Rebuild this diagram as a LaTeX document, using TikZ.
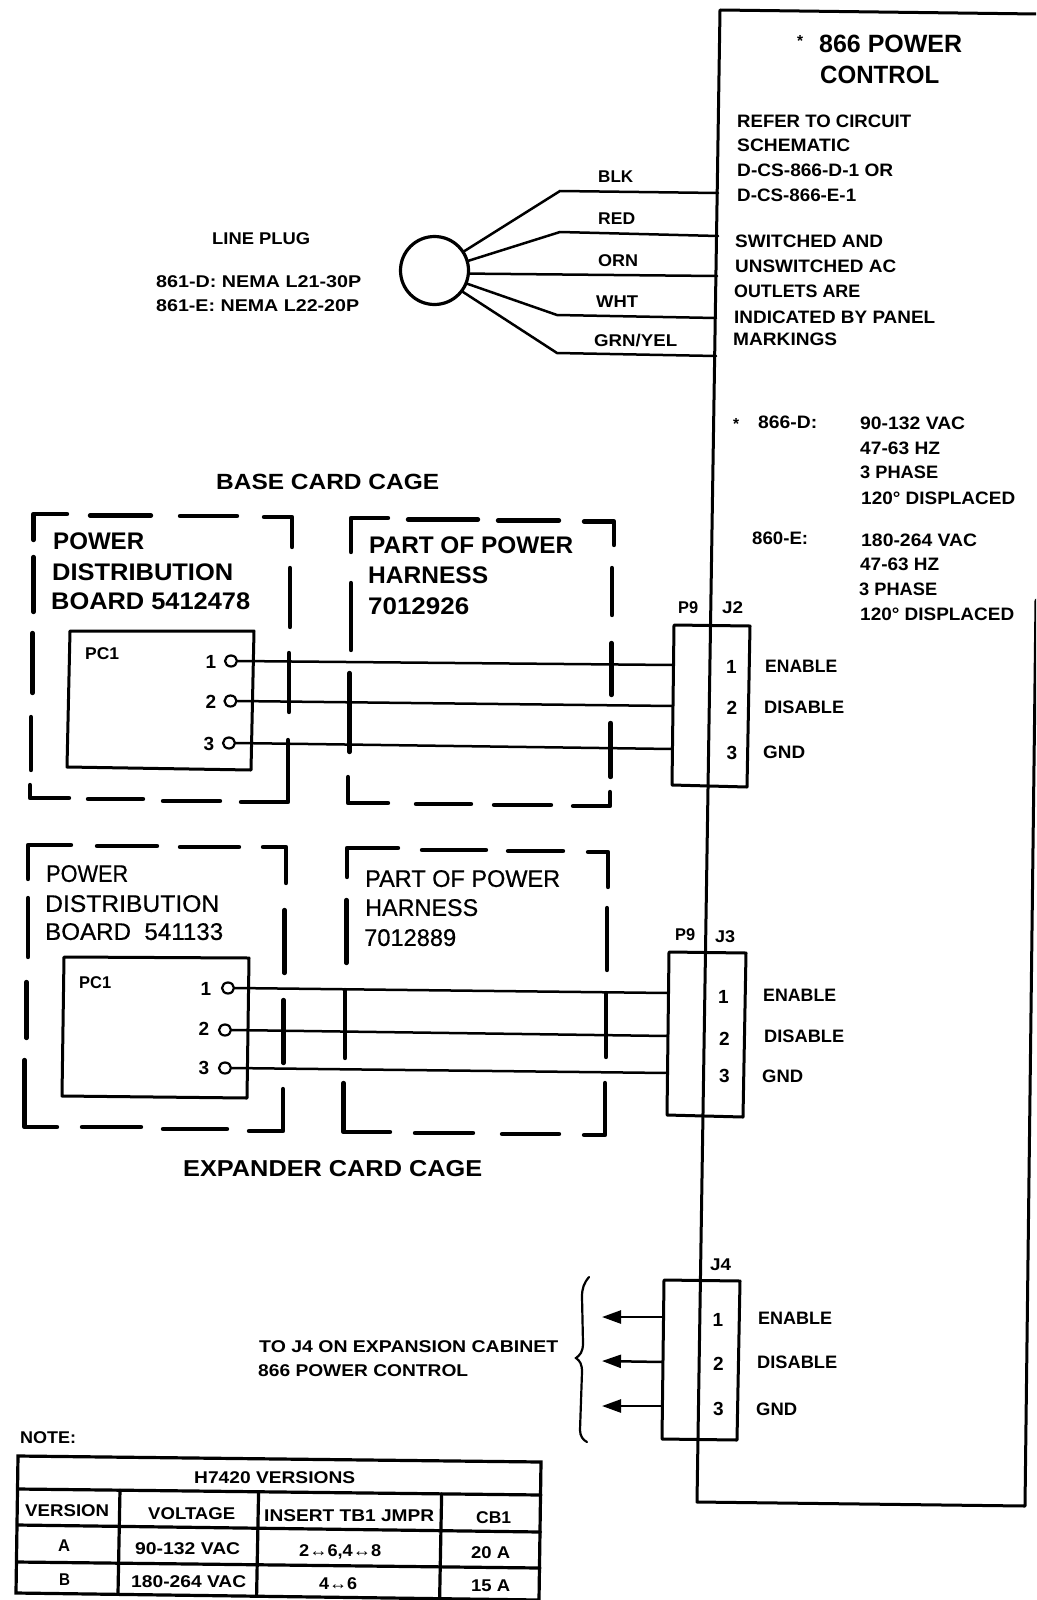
\documentclass[tikz,border=0pt]{standalone}
\usepackage{fontspec}
\usepackage{graphicx}
\usetikzlibrary{arrows.meta,calc,shapes.geometric}
\setmainfont{Liberation Sans}
\newfontfamily\medfont[FakeBold=0.6]{Liberation Sans}
\tikzset{
  mainline/.style={line width=3pt,line join=round,line cap=round},
  wire/.style={line width=2.5pt,line cap=round},
  cage/.style={line width=4.4pt,line cap=round,line join=round},
  board/.style={line width=3pt,line join=round},
  conn/.style={line width=3pt,line join=round},
  tbl/.style={line width=3.2pt,line cap=round},
  pin/.style={ellipse,draw,line width=2.2pt,inner sep=0pt,minimum width=12pt,minimum height=11pt,fill=none},
  plugc/.style={circle,draw,line width=3.2pt,inner sep=0pt,minimum size=68pt},
  lead/.style={line width=2.5pt,-{Triangle[length=19pt,width=13pt]}},
  brace/.style={line width=2.2pt,line cap=round},
}
\newcommand\fitw[2]{\resizebox{#1pt}{\height}{#2}}
% name, left x, centre y, width, font size, text
\newcommand\lab[6]{%
  \pgfmathsetlengthmacro\capH{0.69*#5pt}%
  \node[anchor=west,inner sep=0pt,yshift=-0.6pt,text height=\capH,text depth=0pt,
        font=\fontsize{#5}{#5}\selectfont\bfseries] (#1) at (#2,#3) {\fitw{#4}{#6}};}
\newcommand\labm[6]{%
  \pgfmathsetlengthmacro\capH{0.69*#5pt}%
  \node[anchor=west,inner sep=0pt,yshift=-0.6pt,text height=\capH,text depth=0pt,
        font=\fontsize{#5}{#5}\selectfont\medfont] (#1) at (#2,#3) {\fitw{#4}{#6}};}
% name, centre x, centre y, font size, text
\newcommand\cen[5]{%
  \pgfmathsetlengthmacro\capH{0.69*#4pt}%
  \node[anchor=center,inner sep=0pt,yshift=-0.6pt,text height=\capH,text depth=0pt,
        font=\fontsize{#4}{#4}\selectfont\bfseries] (#1) at (#2,#3) {#5};}
\newcommand\tinyarrow{{\fontsize{17}{17}\selectfont\mdseries ↔}}
\begin{document}
\begin{tikzpicture}[x=1pt,y=-1pt]
\path[use as bounding box,fill=white] (0,0) rectangle (1036,1600);
\clip (0,0) rectangle (1036,1600);

% main enclosure
\draw[mainline] (1037,14) -- (720,10) -- (697,1502) -- (1025,1506) -- (1036,600);

% title and notes
\lab{ast1}{797}{40}{6}{16}{*}
\lab{tA}{819}{43}{143}{25}{866 POWER}
\lab{tB}{820}{74}{119}{25}{CONTROL}
\lab{nA}{737}{121}{174}{18}{REFER TO CIRCUIT}
\lab{nB}{737}{145}{113}{18}{SCHEMATIC}
\lab{nC}{737}{170}{156}{18}{D-CS-866-D-1 OR}
\lab{nD}{737}{195}{119}{18}{D-CS-866-E-1}
\lab{nE}{735}{241}{148}{18}{SWITCHED AND}
\lab{nF}{735}{266}{161}{18}{UNSWITCHED AC}
\lab{nG}{734}{291}{126}{18}{OUTLETS ARE}
\lab{nH}{734}{317}{201}{18}{INDICATED BY PANEL}
\lab{nI}{733}{339}{104}{18}{MARKINGS}
\lab{ast2}{733}{423}{6}{16}{*}
\lab{dA}{758}{422}{59}{18}{866-D:}
\lab{dB}{860}{423}{105}{18}{90-132 VAC}
\lab{dC}{860}{448}{80}{18}{47-63 HZ}
\lab{dD}{860}{472}{78}{18}{3 PHASE}
\lab{dE}{861}{498}{154}{18}{120° DISPLACED}
\lab{eA}{752}{538}{56}{18}{860-E:}
\lab{eB}{861}{540}{116}{18}{180-264 VAC}
\lab{eC}{860}{564}{79}{18}{47-63 HZ}
\lab{eD}{859}{589}{78}{18}{3 PHASE}
\lab{eE}{860}{614}{154}{18}{120° DISPLACED}

% line plug
\lab{lp}{212}{238}{98}{17}{LINE PLUG}
\lab{lpA}{156}{281}{205}{17}{861-D: NEMA L21-30P}
\lab{lpB}{156}{305}{203}{17}{861-E: NEMA L22-20P}
\node[plugc] (plug) at (434.5,270.5) {};
\coordinate (blkM) at (560,191); \coordinate (blkE) at (718,193);
\coordinate (redM) at (560,232); \coordinate (redE) at (718,236);
\coordinate (ornE) at (717,276);
\coordinate (whtM) at (557,315);   \coordinate (whtE) at (716,318);
\coordinate (grnM) at (557,353);   \coordinate (grnE) at (716,356);
\draw[wire] (plug.33) -- (blkM) -- (blkE);
\draw[wire] (plug.16) -- (redM) -- (redE);
\draw[wire] (plug.-5) -- (ornE);
\draw[wire] (plug.-22) -- (whtM) -- (whtE);
\draw[wire] (plug.-37) -- (grnM) -- (grnE);
\lab{wA}{598}{176}{35}{17}{BLK}
\lab{wB}{598}{218}{37}{17}{RED}
\lab{wC}{598}{260}{40}{17}{ORN}
\lab{wD}{596}{301}{42}{17}{WHT}
\lab{wE}{594}{340}{83}{17}{GRN/YEL}

% base card cage
\lab{bcc}{216}{481}{223}{22}{BASE CARD CAGE}
\draw[cage] (33.5,540) -- (33.5,514) -- (67,514)
  (90,515.5) -- (151,515.5) (180,516) -- (237,516)
  (264,517) -- (292,517) -- (292,547)
  (290,568) -- (290,627) (289,653) -- (289,712)
  (288,740) -- (288,802) -- (241,802)
  (220,801) -- (163,801) (143,799) -- (88,799)
  (69,798) -- (30,798) -- (30,785)
  (31,770) -- (31,717) (32.5,693) -- (32.5,633) (33.5,612) -- (33.5,557);
\draw[cage] (351,552) -- (351,518) -- (388,518)
  (408,519.5) -- (478,519.5) (498,520.5) -- (559,520.5)
  (584,521.5) -- (614,521.5) -- (614,545)
  (612,568) -- (612,615) (611.5,643) -- (611.5,695) (610.6,723) -- (610.6,777)
  (610,792) -- (610,806) -- (573,806)
  (551,805) -- (494,805) (471,804) -- (416,804)
  (388,803) -- (348,803) -- (348,777)
  (349.5,752) -- (349.5,673) (351,650) -- (351,583);
\lab{pa}{53}{541}{91}{24}{POWER}
\lab{pb}{52}{572}{181}{24}{DISTRIBUTION}
\lab{pc}{51}{601}{199}{24}{BOARD 5412478}
\lab{ha}{369}{545}{204}{24}{PART OF POWER}
\lab{hb}{368}{575}{120}{24}{HARNESS}
\lab{hc}{368}{606}{101}{24}{7012926}
\draw[board] (70,631) -- (254,631) -- (251,770) -- (67,767) -- cycle;
\lab{pcA}{85}{653}{34}{17}{PC1}
\cen{bA1}{211}{661}{19}{1}
\cen{bA2}{211}{701}{19}{2}
\cen{bA3}{209}{743}{19}{3}
\node[pin] (pinA1) at (231,661) {};
\node[pin] (pinA2) at (230.5,701) {};
\node[pin] (pinA3) at (229,743) {};

% J2
\coordinate (j2tl) at (674,625); \coordinate (j2tr) at (750,626);
\coordinate (j2br) at (747,787); \coordinate (j2bl) at (672,785);
\draw[conn] (j2tl) -- (j2tr) -- (j2br) -- (j2bl) -- cycle;
\coordinate (j2a) at (673.5,665); \coordinate (j2b) at (673,706); \coordinate (j2c) at (672.5,749);
\draw[wire] (pinA1.east) -- (j2a);
\draw[wire] (pinA2.east) -- (j2b);
\draw[wire] (pinA3.east) -- (j2c);
\lab{jAp}{678}{607}{20}{17}{P9}
\lab{jAj}{722}{607}{21}{17}{J2}
\cen{jA1}{731.5}{666}{19}{1}
\cen{jA2}{732}{707}{19}{2}
\cen{jA3}{732}{752}{19}{3}
\lab{jAe}{765}{666}{72}{18}{ENABLE}
\lab{jAd}{764}{707}{80}{18}{DISABLE}
\lab{jAg}{763}{752}{42}{18}{GND}

% expander card cage
\draw[cage] (28,879) -- (28,845) -- (71,845)
  (97,846) -- (157,846) (180,847) -- (239,847)
  (263,847) -- (286,847) -- (286,883)
  (284.5,910) -- (284.5,973) (283.5,1000) -- (283.5,1063)
  (283,1089) -- (283,1131) -- (249,1131)
  (227,1129) -- (163,1129) (141,1127) -- (82,1127)
  (57,1127) -- (24.5,1127) -- (24.5,1060)
  (26.5,1038) -- (26.5,982) (28,957) -- (28,898);
\draw[cage] (347,877) -- (347,848) -- (398,848)
  (422,850) -- (486,850) (508,851) -- (563,851)
  (588,852) -- (608,852) -- (608,887)
  (607,908) -- (607,970) (606,993) -- (606,1057)
  (605,1083) -- (605,1135) -- (584,1135)
  (559,1134) -- (502,1134) (473,1133) -- (415,1133)
  (390,1132) -- (343.5,1132) -- (343.5,1083)
  (345,1058) -- (345,990) (346.5,963) -- (346.5,900);
\labm{qa}{46}{873}{82}{24}{POWER}
\labm{qb}{45}{903}{174}{24}{DISTRIBUTION}
\labm{qc}{45}{931}{178}{24}{BOARD\ \ 541133}
\labm{ia}{365}{878}{195}{24}{PART OF POWER}
\labm{ib}{365}{907}{113}{24}{HARNESS}
\labm{ic}{364}{937}{92}{24}{7012889}
\draw[board] (64,957) -- (249,958) -- (247,1098) -- (62,1096) -- cycle;
\lab{pcB}{79}{982}{32}{17}{PC1}
\cen{bB1}{206}{988}{19}{1}
\cen{bB2}{204}{1028}{19}{2}
\cen{bB3}{204}{1067}{19}{3}
\node[pin] (pinB1) at (228,988) {};
\node[pin] (pinB2) at (225,1030) {};
\node[pin] (pinB3) at (225,1068) {};
\lab{ecc}{183}{1168}{299}{23}{EXPANDER CARD CAGE}

% J3
\coordinate (j3tl) at (669,952); \coordinate (j3tr) at (746,953);
\coordinate (j3br) at (743,1117); \coordinate (j3bl) at (667,1115);
\draw[conn] (j3tl) -- (j3tr) -- (j3br) -- (j3bl) -- cycle;
\coordinate (j3a) at (668.5,993); \coordinate (j3b) at (668,1036); \coordinate (j3c) at (667.5,1073);
\draw[wire] (pinB1.east) -- (j3a);
\draw[wire] (pinB2.east) -- (j3b);
\draw[wire] (pinB3.east) -- (j3c);
\lab{jBp}{675}{934}{20}{17}{P9}
\lab{jBj}{715}{936}{20}{17}{J3}
\cen{jB1}{723.5}{996}{19}{1}
\cen{jB2}{724.5}{1038}{19}{2}
\cen{jB3}{724.5}{1075}{19}{3}
\lab{jBe}{763}{995}{73}{18}{ENABLE}
\lab{jBd}{764}{1036}{80}{18}{DISABLE}
\lab{jBg}{762}{1076}{41}{18}{GND}

% J4
\coordinate (j4tl) at (664,1280); \coordinate (j4tr) at (740,1281);
\coordinate (j4br) at (737,1440); \coordinate (j4bl) at (662,1439);
\draw[conn] (j4tl) -- (j4tr) -- (j4br) -- (j4bl) -- cycle;
\coordinate (j4a) at (663.5,1317); \coordinate (j4b) at (663,1362); \coordinate (j4c) at (662.5,1406);
\coordinate (j4at) at (602,1317); \coordinate (j4bt) at (602,1361); \coordinate (j4ct) at (602,1406);
\draw[lead] (j4a) -- (j4at);
\draw[lead] (j4b) -- (j4bt);
\draw[lead] (j4c) -- (j4ct);
\lab{jCj}{710}{1264}{21}{17}{J4}
\cen{jC1}{718}{1319}{19}{1}
\cen{jC2}{718.5}{1363}{19}{2}
\cen{jC3}{718.5}{1408}{19}{3}
\lab{jCe}{758}{1318}{74}{18}{ENABLE}
\lab{jCd}{757}{1362}{80}{18}{DISABLE}
\lab{jCg}{756}{1409}{41}{18}{GND}
\draw[brace] (589,1277) .. controls (584,1283) and (582,1288) .. (582,1297) -- (583,1343)
  .. controls (583,1352) and (580,1355) .. (576,1358)
  .. controls (580,1361) and (582,1364) .. (582,1372) -- (580,1430)
  .. controls (580,1436) and (583,1440) .. (587,1442);
\lab{toA}{259}{1346}{299}{17}{TO J4 ON EXPANSION CABINET}
\lab{toB}{258}{1370}{210}{17}{866 POWER CONTROL}

% table
\lab{note}{20}{1437}{56}{17}{NOTE:}
\coordinate (ttl) at (18,1456); \coordinate (ttr) at (541,1462);
\coordinate (tbl) at (16,1593); \coordinate (tbr) at (539,1600);
\coordinate (r1l) at (18,1489); \coordinate (r1r) at (541,1495);
\coordinate (r2l) at (17.5,1525); \coordinate (r2r) at (540.5,1532);
\coordinate (r3l) at (17,1562); \coordinate (r3r) at (540,1568);
\draw[tbl] (ttl) -- (ttr) -- (tbr) -- (tbl) -- cycle;
\draw[tbl] (r1l) -- (r1r) (r2l) -- (r2r) (r3l) -- (r3r);
\draw[tbl] ($(r1l)!0.195!(r1r)$) -- ($(tbl)!0.195!(tbr)$)
           ($(r1l)!0.46!(r1r)$) -- ($(tbl)!0.46!(tbr)$)
           ($(r1l)!0.81!(r1r)$) -- ($(tbl)!0.81!(tbr)$);
\lab{thA}{194}{1477}{161}{17}{H7420 VERSIONS}
\lab{thB}{25}{1510}{84}{17}{VERSION}
\lab{thC}{148}{1513}{87}{17}{VOLTAGE}
\lab{thD}{264}{1515}{170}{17}{INSERT TB1 JMPR}
\lab{thE}{476}{1517}{35}{17}{CB1}
\lab{raA}{58}{1545}{12}{17}{A}
\lab{raB}{135}{1548}{105}{17}{90-132 VAC}
\lab{raC}{299}{1550}{82}{17}{2\tinyarrow 6,4\tinyarrow 8}
\lab{raD}{471}{1552}{39}{17}{20 A}
\lab{rbA}{59}{1579}{11}{17}{B}
\lab{rbB}{131}{1581}{115}{17}{180-264 VAC}
\lab{rbC}{319}{1583}{38}{17}{4\tinyarrow 6}
\lab{rbD}{471}{1585}{39}{17}{15 A}
\end{tikzpicture}
\end{document}
